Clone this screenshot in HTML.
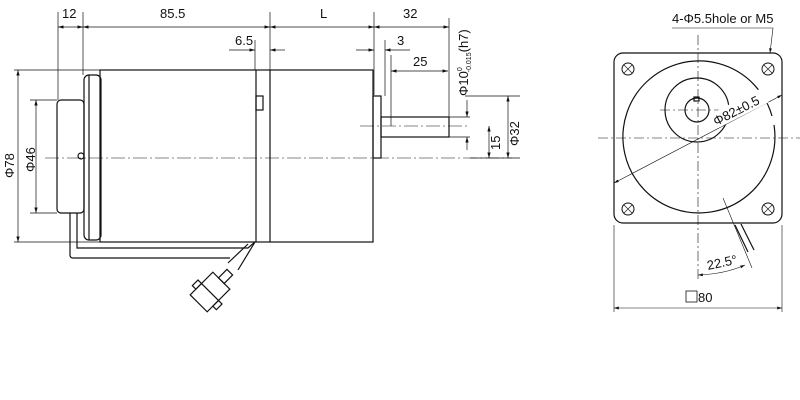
<!DOCTYPE html>
<html><head><style>body{margin:0;background:#fff}svg{display:block}text{font-family:"Liberation Sans",sans-serif;fill:#111}</style></head><body>
<svg width="800" height="400" viewBox="0 0 800 400" xmlns="http://www.w3.org/2000/svg">
<defs><marker id="a" viewBox="0 0 10 6" refX="10" refY="3" markerWidth="8" markerHeight="5" orient="auto-start-reverse"><path d="M0,0L10,3L0,6z" fill="#111"/></marker></defs>
<g stroke="#111" fill="none" stroke-width="0.7">
<path d="M58,12V100M83,12V75M270,12V70M374,12V95M449,18V117M255,40V70M385,40V96M391,55V126"/>
<path d="M14,70H100M30,100H57M30,213H57M14,242H100M465,96H520M400,117H470M400,137H470M470,158H520"/>
<path d="M58,27H83" marker-start="url(#a)" marker-end="url(#a)"/>
<path d="M83,27H270" marker-start="url(#a)" marker-end="url(#a)"/>
<path d="M270,27H374" marker-start="url(#a)" marker-end="url(#a)"/>
<path d="M374,27H449" marker-start="url(#a)" marker-end="url(#a)"/>
<path d="M229,50H255" marker-end="url(#a)"/><path d="M285,50H270" marker-end="url(#a)"/>
<path d="M356,50H374" marker-end="url(#a)"/><path d="M410,50H385" marker-end="url(#a)"/>
<path d="M391,71H448" marker-start="url(#a)" marker-end="url(#a)"/>
<path d="M18,70V242" marker-start="url(#a)" marker-end="url(#a)"/>
<path d="M36,100V213" marker-start="url(#a)" marker-end="url(#a)"/>
<path d="M508,96V158" marker-start="url(#a)" marker-end="url(#a)"/>
<path d="M489,126V158" marker-start="url(#a)" marker-end="url(#a)"/>
<path d="M467,100V117" marker-end="url(#a)"/><path d="M467,150V137" marker-end="url(#a)"/>
</g>
<g stroke="#111" fill="none" stroke-width="1.2">
<rect x="57" y="100" width="27" height="113" rx="4"/>
<rect x="84" y="75" width="17" height="165" rx="5"/>
<path d="M89,75V240"/>
<rect x="100" y="70" width="273" height="172"/>
<path d="M256,70V242M270,70V242"/>
<rect x="256" y="96" width="7" height="14"/>
<rect x="373" y="96" width="8" height="62"/>
<rect x="381" y="117" width="68" height="20"/>
<circle cx="81" cy="156" r="3"/>
<path d="M70,213V255Q70,258 73,258H230M77,213V248H248L255,242"/>
<path d="M255,242L238,270M248,244L228,263"/>
<g transform="translate(210,292) rotate(-45)"><rect x="-16" y="-12" width="32" height="24"/><path d="M0,-12V12"/><rect x="16" y="-4" width="12" height="8"/><rect x="-8" y="-17" width="8" height="5"/><rect x="-8" y="12" width="8" height="5"/></g>
</g>
<g stroke="#111" fill="none" stroke-width="0.6" stroke-dasharray="14,3,2,3">
<path d="M45,158H512M360,126H468"/>
</g>
<g font-size="13">
<text x="62" y="18">12</text><text x="160" y="18">85.5</text><text x="320" y="18">L</text><text x="403" y="18">32</text>
<text x="235" y="45">6.5</text><text x="397" y="45">3</text><text x="413" y="66">25</text>
<text transform="translate(14,178) rotate(-90)">Φ78</text>
<text transform="translate(35,172) rotate(-90)">Φ46</text>
<text transform="translate(519,146) rotate(-90)">Φ32</text>
<text transform="translate(500,150) rotate(-90)">15</text>
<text transform="translate(468,96) rotate(-90)">Φ10<tspan font-size="7" dy="-6">0</tspan><tspan font-size="7" dx="-5" dy="9">-0.015</tspan><tspan dy="-3">(h7)</tspan></text>
</g>
<g stroke="#111" fill="none" stroke-width="1.2">
<rect x="614" y="53" width="168" height="170" rx="9"/>
<path d="M774,125A76,76 0 1 1 772,116"/>
<circle cx="697" cy="110" r="32"/>
<circle cx="697" cy="110" r="12"/>
<rect x="694" y="97" width="5" height="4"/>
<g stroke-width="1"><circle cx="628" cy="69" r="6"/><circle cx="768" cy="69" r="6"/><circle cx="628" cy="209" r="6"/><circle cx="768" cy="209" r="6"/></g>
<path d="M735,225L748,252M741,224L754,250"/>
</g>
<g stroke="#111" fill="none" stroke-width="0.6">
<path d="M624,65l8,8M632,65l-8,8M764,65l8,8M772,65l-8,8M624,205l8,8M632,205l-8,8M764,205l8,8M772,205l-8,8"/>
<path d="M614,183L782,95" marker-start="url(#a)" marker-end="url(#a)"/>
<path d="M672,28H773L770,53" marker-end="url(#a)"/>
<path d="M614,225V312M782,225V312"/>
<path d="M614,308H782" marker-start="url(#a)" marker-end="url(#a)"/>
<path d="M723,198L752,268"/>
<path d="M698,275Q725,274 745,265" marker-start="url(#a)" marker-end="url(#a)"/>
<path d="M698,35V280M598,138H800M660,110H740" stroke-dasharray="10,3,2,3"/>
</g>
<g font-size="13">
<text x="672" y="23">4-Φ5.5hole or M5</text>
<rect x="712" y="100" width="56" height="16" fill="#fff" transform="rotate(-27 740 108)"/>
<text transform="translate(716,126) rotate(-27)">Φ82±0.5</text>
<text transform="translate(708,270) rotate(-12)">22.5°</text>
<rect x="686" y="291" width="11" height="11" fill="none" stroke="#111" stroke-width="0.8"/>
<text x="698" y="302">80</text>
</g>
</svg>
</body></html>
